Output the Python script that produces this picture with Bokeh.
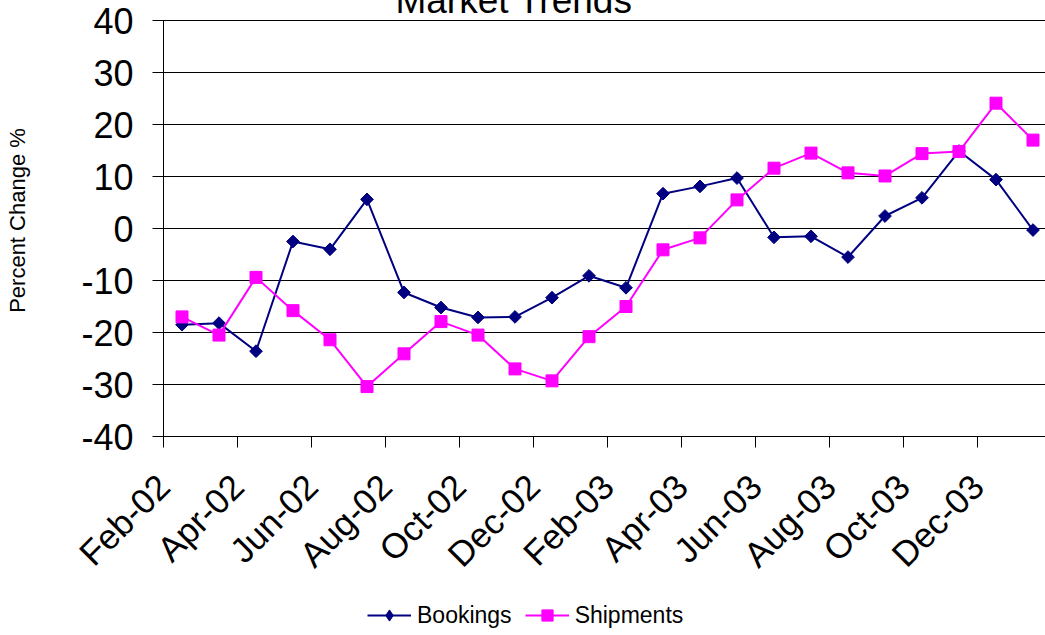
import math
from bokeh.plotting import figure
from bokeh.models import Range1d, FixedTicker, Label, Legend, LegendItem
from bokeh.embed import file_html
from bokeh.resources import INLINE

months = ["Feb-02", "Mar-02", "Apr-02", "May-02", "Jun-02", "Jul-02", "Aug-02", "Sep-02",
          "Oct-02", "Nov-02", "Dec-02", "Jan-03", "Feb-03", "Mar-03", "Apr-03", "May-03",
          "Jun-03", "Jul-03", "Aug-03", "Sep-03", "Oct-03", "Nov-03", "Dec-03", "Jan-04"]
bookings = [-18.5, -18.2, -23.6, -2.5, -4.0, 5.6, -12.3, -15.2, -17.1, -17.0, -13.3, -9.1,
            -11.4, 6.7, 8.1, 9.7, -1.7, -1.5, -5.5, 2.4, 5.9, 14.9, 9.4, -0.3]
shipments = [-17.0, -20.5, -9.4, -15.8, -21.4, -30.4, -24.1, -17.9, -20.5, -27.0, -29.3, -20.8,
             -15.0, -4.1, -1.8, 5.5, 11.6, 14.5, 10.7, 10.1, 14.4, 14.8, 24.1, 17.0]
y_ticks = [-40, -30, -20, -10, 0, 10, 20, 30, 40]
title_text = "Market Trends"
y_title = "Percent Change %"

FONT = "Liberation Sans"
n = len(months)
xs = [i + 0.5 for i in range(n)]
x_ticks = list(range(0, n, 2))
x_labels = {i: months[i] for i in x_ticks}
y_labels = {t: str(t) for t in y_ticks}
y_min, y_max = y_ticks[0], y_ticks[-1]

# layout geometry (pixels); the whole canvas is the frame, axes drawn at fixed locations
LEFT = 163           # pixels left of the first category
TOP = 28             # pixels above the +40 line
PX_X = 37.0          # pixels per category
PX_Y = 5.2           # pixels per percent
BELOW = 199          # pixels below the -40 line (axis labels + legend)
PLOT_W = PX_X * n
W = int(LEFT + PLOT_W)
H = int(TOP + PX_Y * (y_max - y_min) + BELOW)

p = figure(width=W, height=H, output_backend="svg", toolbar_location=None,
           x_range=Range1d(-LEFT / PX_X, n),
           y_range=Range1d(y_min - BELOW / PX_Y, y_max + TOP / PX_Y),
           min_border_left=0, min_border_right=0, min_border_top=0, min_border_bottom=0)
p.styles = {"margin-top": "-8px"}
p.outline_line_color = None
p.background_fill_color = "white"
p.border_fill_color = "white"
p.xgrid.visible = False
p.ygrid.visible = False

# y axis at x = 0; its long inward ticks form the horizontal gridlines
ya = p.yaxis[0]
ya.fixed_location = 0
ya.level = "underlay"
ya.ticker = FixedTicker(ticks=y_ticks)
ya.bounds = (y_min, y_max)
ya.major_label_overrides = y_labels
ya.major_tick_out = 11
ya.major_tick_in = int(PLOT_W)
ya.minor_tick_out = 0
ya.minor_tick_in = 0
ya.axis_line_color = "black"
ya.major_tick_line_color = "black"
ya.major_label_text_font = FONT
ya.major_label_text_font_size = "36px"
ya.major_label_text_color = "black"
ya.major_label_standoff = 19

# x axis at y = -40
xa = p.xaxis[0]
xa.fixed_location = y_min
xa.ticker = FixedTicker(ticks=x_ticks)
xa.bounds = (0, n)
xa.major_label_overrides = x_labels
xa.major_tick_out = 11
xa.major_tick_in = 0
xa.minor_tick_out = 0
xa.minor_tick_in = 0
xa.major_tick_line_color = "black"
xa.axis_line_color = "black"
xa.major_label_orientation = math.pi / 4
xa.major_label_text_font = FONT
xa.major_label_text_font_size = "35px"
xa.major_label_text_color = "black"
xa.major_label_standoff = 33

# series
lb = p.line(xs, bookings, line_color="#000080", line_width=2)
sb = p.scatter(xs, bookings, marker="square", angle=math.pi / 4, size=9,
               fill_color="#000080", line_color="#000080")
sb_key = p.scatter(xs, bookings, marker="diamond", size=0,
                   fill_color="#000080", line_color="#000080")
ls = p.line(xs, shipments, line_color="#FF00FF", line_width=2)
ss = p.scatter(xs, shipments, marker="square", size=12,
               fill_color="#FF00FF", line_color="#FF00FF")

# title (partially clipped at the top like the reference)
p.add_layout(Label(x=(513.5 - LEFT) / PX_X, y=y_max, y_offset=20, text=title_text,
                   text_font=FONT, text_font_size="37px", text_color="black",
                   text_align="center", text_baseline="middle"))

# y axis title
p.add_layout(Label(x=0, y=0, x_offset=-146, y_offset=8, angle=math.pi / 2,
                   text=y_title, text_font=FONT, text_font_size="22px",
                   text_color="black", text_align="center", text_baseline="middle"))

legend = Legend(items=[LegendItem(label="Bookings", renderers=[lb, sb_key]),
                       LegendItem(label="Shipments", renderers=[ls, ss])],
                location=(367, 6), orientation="horizontal",
                border_line_color=None, background_fill_alpha=0,
                padding=0, margin=0, spacing=13, glyph_width=44, glyph_height=28,
                label_standoff=6, label_text_font=FONT, label_text_font_size="23px",
                label_text_color="black")
p.add_layout(legend)

open("out.html", "w").write(file_html(p, INLINE))
